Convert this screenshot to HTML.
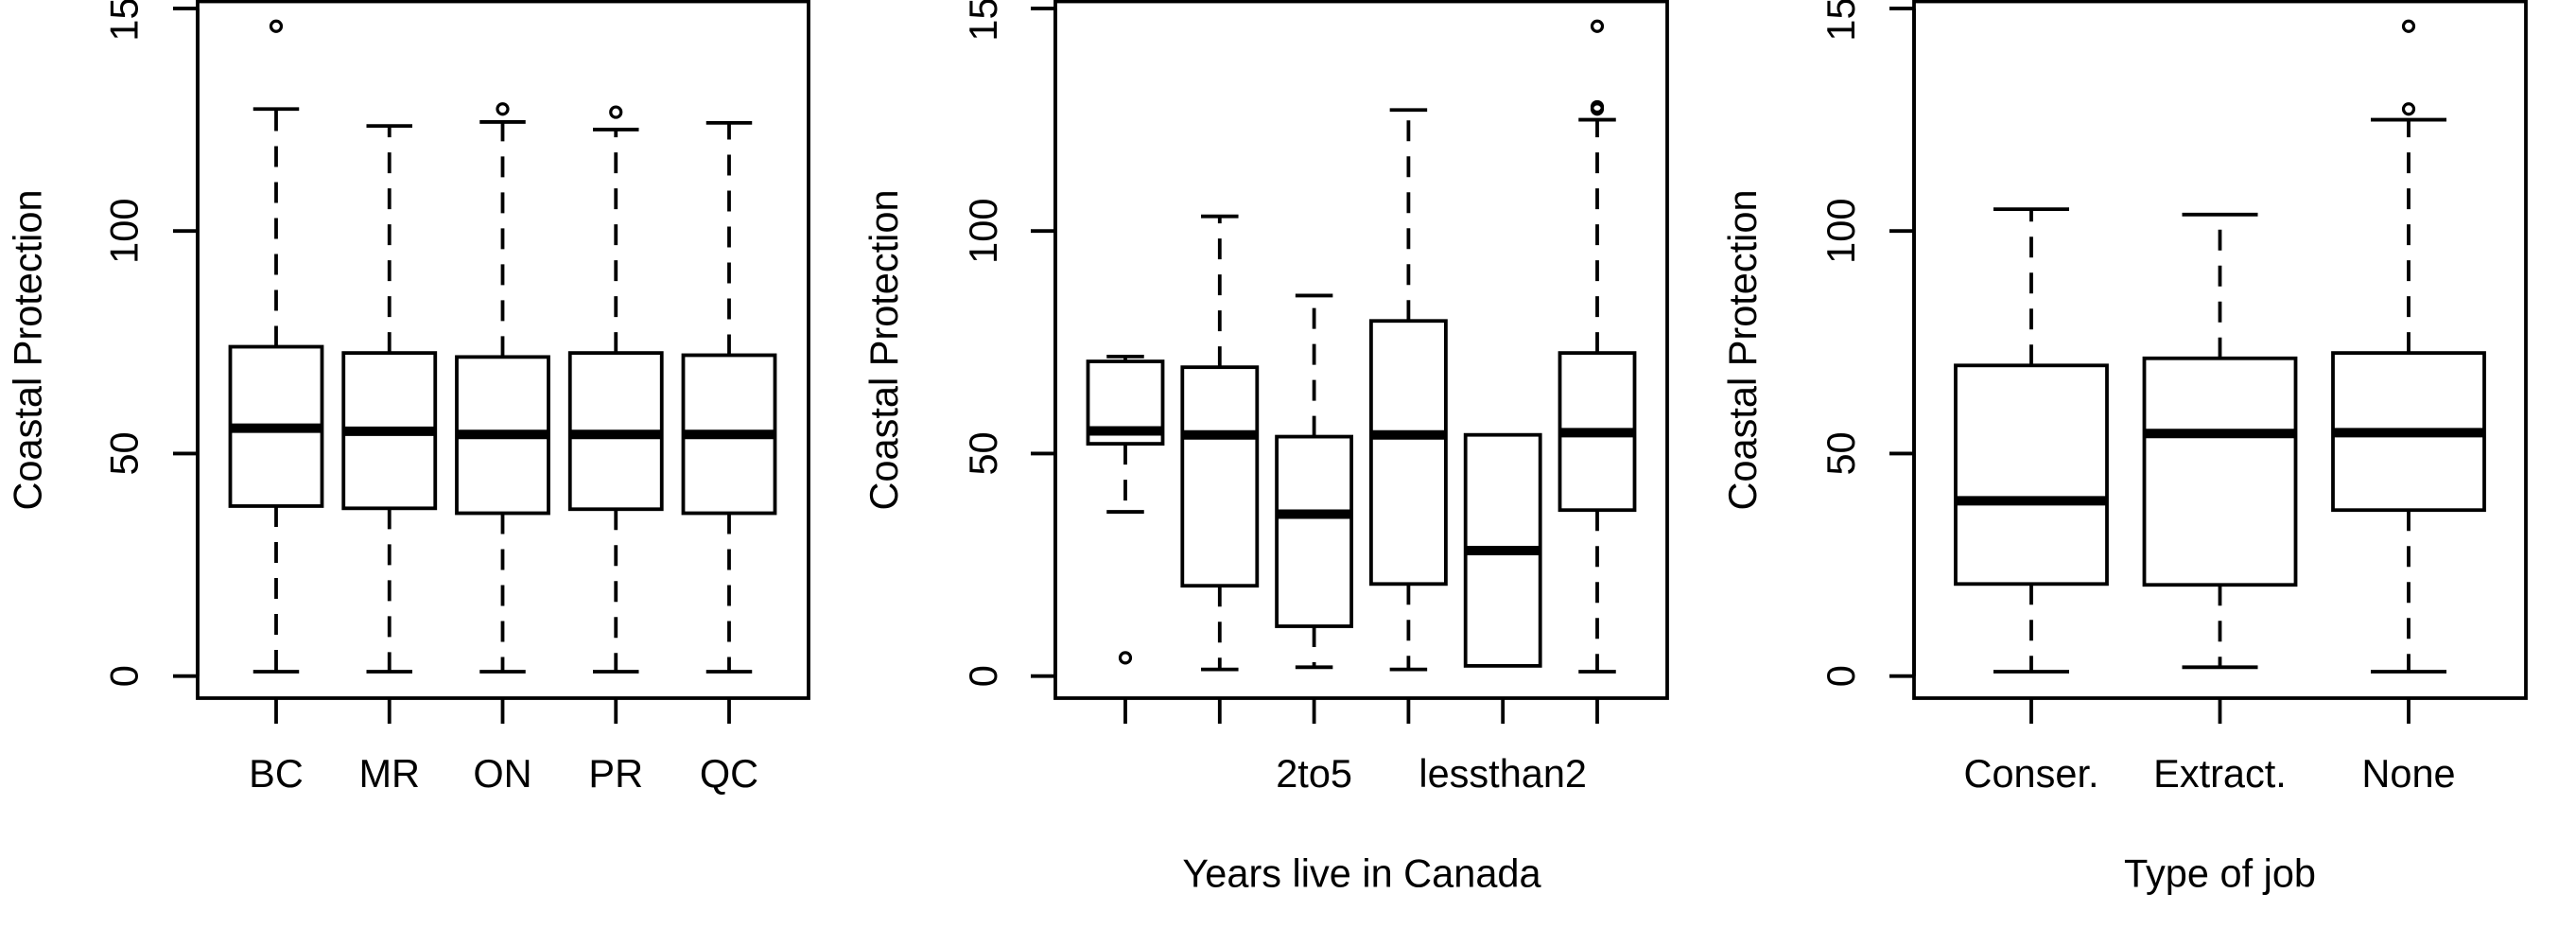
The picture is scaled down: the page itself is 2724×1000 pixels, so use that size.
<!DOCTYPE html>
<html><head><meta charset="utf-8"><style>
html,body{margin:0;padding:0;background:#fff;}
svg{display:block;}
text{font-family:"Liberation Sans",Arial,sans-serif;fill:#000;}
</style></head><body>
<svg id="chart" width="2724" height="1000" viewBox="0 0 2724 1000" xmlns="http://www.w3.org/2000/svg"><g id="root"></g></svg>
<script>
// Panel 1: Province
const p1Categories = ["BC","MR","ON","PR","QC"];
const p1Low = [1,1,1,1,1];
const p1Q1 = [38.2,37.7,36.6,37.5,36.6];
const p1Median = [55.7,55,54.3,54.3,54.3];
const p1Q3 = [74,72.6,71.7,72.6,72.1];
const p1High = [127.4,123.6,124.5,122.8,124.3];
const p1Outliers = [[146],[],[127.4],[126.7],[]];
// Panel 2: Years live in Canada (only some labels visible)
const p2Categories = ["","","2to5","","lessthan2",""];
const p2Low = [36.9,1.5,2,1.5,2.3,1];
const p2Q1 = [52.2,20.3,11.2,20.7,2.3,37.3];
const p2Median = [55.1,54.2,36.4,54.2,28.2,54.7];
const p2Q3 = [70.7,69.4,53.8,79.8,54.2,72.6];
const p2High = [71.8,103.3,85.5,127.2,54.2,125];
const p2Outliers = [[4.1],[],[],[],[],[127.4,127.9,146]];
// Panel 3: Type of job
const p3Categories = ["Conser.","Extract.","None"];
const p3Low = [1,2,1];
const p3Q1 = [20.7,20.5,37.3];
const p3Median = [39.4,54.5,54.7];
const p3Q3 = [69.8,71.4,72.6];
const p3High = [104.9,103.7,125];
const p3Outliers = [[],[],[127.4,146]];
const yTicks = [0,50,100,150];
const yTickLabels = ["0","50","100","150"];

const NS="http://www.w3.org/2000/svg";
const svg=document.getElementById('root');
function mk(tag,attrs,parent){const e=document.createElementNS(NS,tag);for(const k in attrs)e.setAttribute(k,attrs[k]);(parent||svg).appendChild(e);return e;}
const Y0=714.7, PXU=4.705;
const LW=3.8, FS=41.5, BOTTOM=738, TOP=1.5;
function yScale(v){return Y0-v*PXU;}

function panel(cfg,cats,low,q1,med,q3,high,outs){
  const g=mk('g',{});
  
  
  const n=cats.length;
  const step=(cfg.lastX-cfg.firstX)/(n-1);
  function xScale(i){return cfg.firstX+i*step;}
  const frame=mk('rect',{x:cfg.left,y:TOP,width:cfg.right-cfg.left,height:BOTTOM-TOP,fill:'none',stroke:'#000','stroke-width':LW},g);
  
  
  const ya=mk('g',{},g);
  
  
  mk('line',{x1:cfg.left,x2:cfg.left,y1:yScale(0),y2:yScale(150),stroke:'#000','stroke-width':LW},ya);
  yTicks.forEach((t,i)=>{
    const y=yScale(t);
    mk('line',{x1:cfg.left-26,x2:cfg.left,y1:y,y2:y,stroke:'#000','stroke-width':LW},ya);
    const tx=mk('text',{x:0,y:0,'font-size':FS,'text-anchor':'middle',transform:`translate(${cfg.tickLabelX+15},${y}) rotate(-90)`},ya);
    
    
    tx.textContent=yTickLabels[i];
  });
  const yl=mk('text',{x:0,y:0,'font-size':FS,'text-anchor':'middle',transform:`translate(${cfg.ylabX+15},370) rotate(-90)`},g);
  
  
  yl.textContent='Coastal Protection';
  const xa=mk('g',{},g);
  
  
  for(let i=0;i<n;i++){
    const x=xScale(i);
    mk('line',{x1:x,x2:x,y1:BOTTOM,y2:765,stroke:'#000','stroke-width':LW},xa);
    if(cats[i]){
      const t=mk('text',{x:x,y:832,'font-size':FS,'text-anchor':'middle'},xa);
      
      
      t.textContent=cats[i];
    }
  }
  if(cfg.xlab){
    const xl=mk('text',{x:cfg.xlabX,y:937.5,'font-size':FS,'text-anchor':'middle'},g);
    
    
    xl.textContent=cfg.xlab;
  }
  const bw=cfg.boxW;
  for(let i=0;i<n;i++){
    const x=xScale(i);
    const b=mk('g',{},g);
    
    
    const dash={stroke:'#000','stroke-width':LW,'stroke-dasharray':'22 16'};
    if(high[i]>q3[i]){
      mk('line',Object.assign({x1:x,x2:x,y1:yScale(q3[i]),y2:yScale(high[i])},dash),b);
      mk('line',{x1:x-bw/4,x2:x+bw/4,y1:yScale(high[i]),y2:yScale(high[i]),stroke:'#000','stroke-width':LW},b);
    }
    if(low[i]<q1[i]){
      mk('line',Object.assign({x1:x,x2:x,y1:yScale(q1[i]),y2:yScale(low[i])},dash),b);
      mk('line',{x1:x-bw/4,x2:x+bw/4,y1:yScale(low[i]),y2:yScale(low[i]),stroke:'#000','stroke-width':LW},b);
    }
    mk('rect',{x:x-bw/2,y:yScale(q3[i]),width:bw,height:yScale(q1[i])-yScale(q3[i]),fill:'#fff',stroke:'#000','stroke-width':LW},b);
    mk('line',{x1:x-bw/2+1.5,x2:x+bw/2-1.5,y1:yScale(med[i]),y2:yScale(med[i]),stroke:'#000','stroke-width':10},b);
    outs[i].forEach(v=>{
      const c=mk('circle',{cx:x,cy:yScale(v),r:5.5,fill:'none',stroke:'#000','stroke-width':3.2},b);
      
      
    });
  }
}
panel({name:'panel-province',left:209,right:855,firstX:292,lastX:771,boxW:97,tickLabelX:130.5,ylabX:28.7},
  p1Categories,p1Low,p1Q1,p1Median,p1Q3,p1High,p1Outliers);
panel({name:'panel-years-in-canada',left:1116,right:1763,firstX:1190,lastX:1689,boxW:79,tickLabelX:1039,ylabX:934,xlab:'Years live in Canada',xlabX:1440},
  p2Categories,p2Low,p2Q1,p2Median,p2Q3,p2High,p2Outliers);
panel({name:'panel-type-of-job',left:2024,right:2671,firstX:2148,lastX:2547,boxW:160,tickLabelX:1946,ylabX:1842,xlab:'Type of job',xlabX:2347.5},
  p3Categories,p3Low,p3Q1,p3Median,p3Q3,p3High,p3Outliers);
</script>
</body></html>
